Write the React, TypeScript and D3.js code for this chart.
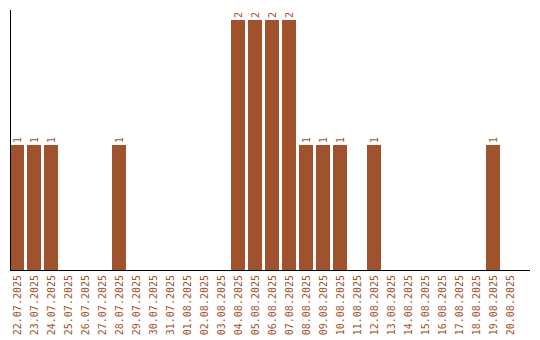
import React from "react";
import * as d3 from "d3";

const dates = [
  "22.07.2025", "23.07.2025", "24.07.2025", "25.07.2025", "26.07.2025",
  "27.07.2025", "28.07.2025", "29.07.2025", "30.07.2025", "31.07.2025",
  "01.08.2025", "02.08.2025", "03.08.2025", "04.08.2025", "05.08.2025",
  "06.08.2025", "07.08.2025", "08.08.2025", "09.08.2025", "10.08.2025",
  "11.08.2025", "12.08.2025", "13.08.2025", "14.08.2025", "15.08.2025",
  "16.08.2025", "17.08.2025", "18.08.2025", "19.08.2025", "20.08.2025",
];
const counts = [
  1, 1, 1, 0, 0, 0, 1, 0, 0, 0,
  0, 0, 0, 2, 2, 2, 2, 1, 1, 1,
  0, 1, 0, 0, 0, 0, 0, 0, 1, 0,
];

const W = 540;
const H = 340;
const COLOR = "#A0522D";
const FONT = "'DejaVu Sans Mono', monospace";

export default function App() {
  const x = d3
    .scaleBand<string>()
    .domain(dates)
    .range([10, 517])
    .paddingInner(3 / 17)
    .paddingOuter(0);
  const y = d3.scaleLinear().domain([0, 2]).range([270, 20]);
  const bw = x.bandwidth();

  return (
    <svg
      width={W}
      height={H}
      style={{ position: "absolute", left: 0, top: 0, display: "block" }}
    >
      <rect width={W} height={H} fill="#fff" />
      {dates.map((d, i) => {
        const v = counts[i];
        const cx = (x(d) ?? 0) + bw / 2;
        return (
          <g key={d}>
            {v > 0 && (
              <rect
                x={x(d)}
                y={y(v)}
                width={bw}
                height={y(0) - y(v)}
                fill={COLOR}
                shapeRendering="crispEdges"
              />
            )}
            {v > 0 && (
              <text
                transform={`translate(${cx + 3.5},${y(v) - 2}) rotate(-90)`}
                textAnchor="start"
                fontFamily={FONT}
                fontSize={10}
                fill={COLOR}
              >
                {v}
              </text>
            )}
            <text
              transform={`translate(${cx + 3.5},${275}) rotate(-90)`}
              textAnchor="end"
              fontFamily={FONT}
              fontSize={10}
              fill={COLOR}
            >
              {d}
            </text>
          </g>
        );
      })}
      <line x1={10.5} x2={10.5} y1={10} y2={270} stroke="#000" strokeWidth={1} />
      <line x1={10} x2={530} y1={270.5} y2={270.5} stroke="#000" strokeWidth={1} />
    </svg>
  );
}
